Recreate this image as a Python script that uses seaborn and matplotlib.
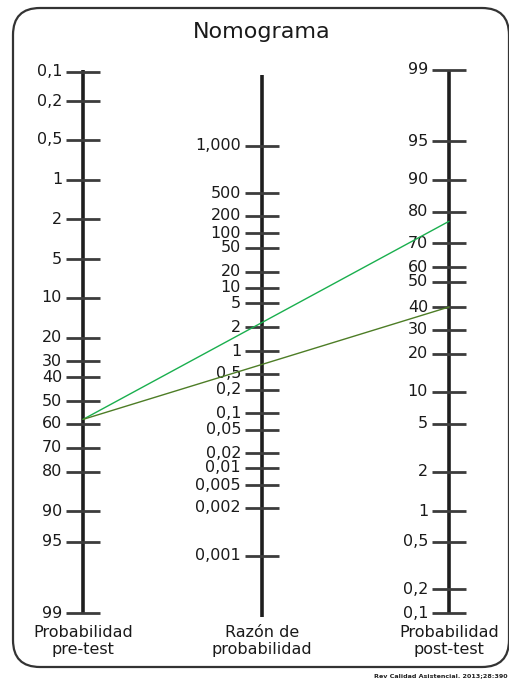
import numpy as np
import pandas as pd
import seaborn as sns
import matplotlib.pyplot as plt
from matplotlib.patches import FancyBboxPatch

# pre-test probability (%): tick values, labels and where they sit on the printed scale
pre_vals = [0.1, 0.2, 0.5, 1, 2, 5, 10, 20, 30, 40, 50, 60, 70, 80, 90, 95, 99]
pre_labels = ['0,1', '0,2', '0,5', '1', '2', '5', '10', '20', '30', '40',
              '50', '60', '70', '80', '90', '95', '99']
pre_scale = [72, 101, 140, 180, 219, 259, 298, 338, 361, 377, 401, 424, 448, 472, 511, 542, 613]

# likelihood ratio
lr_vals = [1000, 500, 200, 100, 50, 20, 10, 5, 2, 1, 0.5, 0.2, 0.1, 0.05,
           0.02, 0.01, 0.005, 0.002, 0.001]
lr_labels = ['1,000', '500', '200', '100', '50', '20', '10', '5', '2', '1',
             '0,5', '0,2', '0,1', '0,05', '0,02', '0,01', '0,005', '0,002', '0,001']
lr_scale = [146, 193, 216, 233, 248, 272, 288, 303, 327, 351, 374, 390, 413,
            430, 453, 468, 485, 508, 556]

# post-test probability (%)
post_vals = [0.1, 0.2, 0.5, 1, 2, 5, 10, 20, 30, 40, 50, 60, 70, 80, 90, 95, 99]
post_labels = ['0,1', '0,2', '0,5', '1', '2', '5', '10', '20', '30', '40',
               '50', '60', '70', '80', '90', '95', '99']
post_scale = [613, 589, 542, 511, 472, 424, 392, 354, 330, 307, 282, 267, 243, 212, 180, 141, 70]

pretest = 58
posttest = [77, 40]
cases = ['LR alto', 'LR bajo']
case_colors = ['#1aaf4e', '#4d7d26']

sns.set_theme(style='white')
plt.rcParams['font.family'] = ['DejaVu Sans']

W, H = 509, 681
fig = plt.figure(figsize=(W / 100, H / 100), dpi=100)
ax = fig.add_axes([0, 0, 1, 1])
unit = 183.0  # pixels between outer scales / 2
col_x = [0, 179 / unit, 2]

scales = [
    (col_x[0], pre_labels, pre_scale, (70, 614), 'Probabilidad\npre-test'),
    (col_x[1], lr_labels, lr_scale, (75, 617), 'Razón de\nprobabilidad'),
    (col_x[2], post_labels, post_scale, (70, 614), 'Probabilidad\npost-test'),
]
tw = 17 / unit
for x, labels, pos, span, title in scales:
    ax.vlines(x, span[0], span[1], color='#1e1e1e', lw=2.6, zorder=3)
    ax.hlines(pos, x - tw, x + tw, color='#3c3c3c', lw=2.0, zorder=3)
    for lab, p in zip(labels, pos):
        ax.text(x - tw - 4 / unit, p, lab, ha='right', va='center',
                fontsize=11.5, color='#1a1a1a')
    ax.text(x, 625, title, ha='center', va='top', fontsize=11.5,
            color='#1a1a1a', linespacing=1.2)

# lines through the nomogram
pre_y = np.interp(pretest, pre_vals, pre_scale)
rows = []
for name, p in zip(cases, posttest):
    rows.append({'case': name, 'x': col_x[0], 'y': pre_y})
    rows.append({'case': name, 'x': col_x[2], 'y': np.interp(p, post_vals, post_scale)})
df = pd.DataFrame(rows)
sns.lineplot(data=df, x='x', y='y', hue='case', palette=case_colors,
             legend=False, sort=False, lw=1.0, ax=ax, zorder=4)
ax.set_xlim(-83 / unit, (W - 83) / unit)
ax.set_ylim(H, 0)
ax.axis('off')

ax.text(col_x[1], 32, 'Nomograma', ha='center', va='center', fontsize=16, color='#1a1a1a')

box = FancyBboxPatch((0.13, (H - 667) / 100), 4.96, 6.59,
                     boxstyle='round,pad=0,rounding_size=0.27',
                     transform=fig.dpi_scale_trans, fill=False,
                     ec='#333333', lw=1.6)
fig.patches.append(box)

fig.text(508 / W, 1 - 676 / H, 'Rev Calidad Asistencial. 2013;28:390',
         ha='right', va='center', fontsize=4.6, fontweight='bold', color='#222222')

fig.savefig('out.png', dpi=100, facecolor='white')
